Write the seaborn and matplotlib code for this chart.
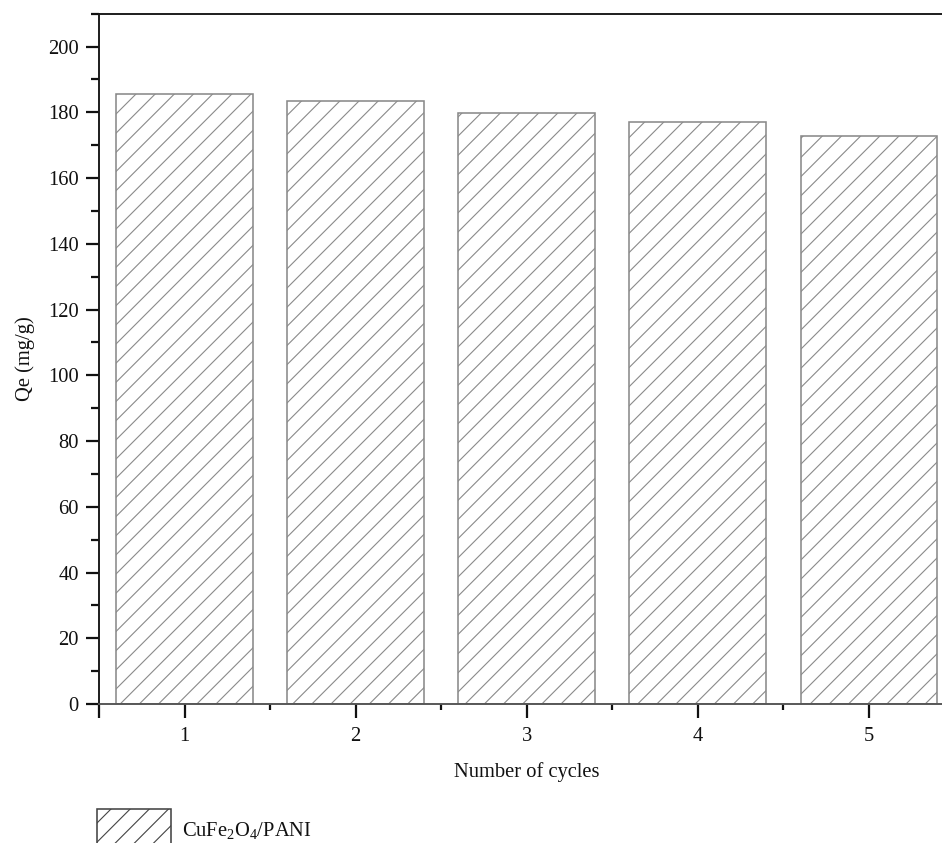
import matplotlib
matplotlib.use("Agg")
import matplotlib.pyplot as plt
import seaborn as sns
import pandas as pd
from matplotlib.ticker import FixedLocator, MultipleLocator

# Adsorption capacity over repeated regeneration cycles
cycles = [1, 2, 3, 4, 5]
qe_values = [185.6, 183.3, 179.7, 177.0, 172.7]
x_tick_labels = ["", "1", "2", "3", "4", "5"]
series_label = r"CuFe$_2$O$_4$/PANI"

df = pd.DataFrame({"cycle": cycles, "qe": qe_values})

sns.set_theme(style="ticks")
plt.rcParams["font.family"] = ["Liberation Serif", "DejaVu Serif"]
plt.rcParams["mathtext.fontset"] = "custom"
plt.rcParams["mathtext.rm"] = "Liberation Serif"
plt.rcParams["mathtext.it"] = "Liberation Serif"
plt.rcParams["hatch.linewidth"] = 0.7
plt.rcParams["text.color"] = "#111111"
plt.rcParams["axes.labelcolor"] = "#111111"
plt.rcParams["xtick.labelcolor"] = "#111111"
plt.rcParams["ytick.labelcolor"] = "#111111"

DPI = 115
fig = plt.figure(figsize=(943 / DPI, 843 / DPI), dpi=DPI)
ax = fig.add_axes([99 / 943, 139 / 843, 855.5 / 943, 690.3 / 843])

bar_edge = "#8a8a8a"
sns.barplot(data=df, x="cycle", y="qe", native_scale=True, ax=ax,
            color="white", saturation=1, edgecolor=bar_edge, linewidth=1.0,
            hatch="//", width=0.8, label=series_label)
handles, labels = ax.get_legend_handles_labels()
if ax.get_legend() is not None:
    ax.get_legend().remove()

ax.set_xlim(0.5, 5.5)
ax.set_ylim(0, 210)

ax.xaxis.set_major_locator(FixedLocator([0.5, 1, 2, 3, 4, 5]))
ax.set_xticklabels(x_tick_labels)
ax.xaxis.set_minor_locator(FixedLocator([1.5, 2.5, 3.5, 4.5]))
ax.set_yticks(range(0, 201, 20))
ax.yaxis.set_minor_locator(MultipleLocator(10))

fs = 12.8
ax.tick_params(axis="both", which="major", labelsize=fs, width=1.4, color="#111111")
ax.tick_params(axis="y", which="major", length=8.1, pad=4.5)
ax.tick_params(axis="y", which="minor", length=5.0, width=1.4, color="#111111")
ax.tick_params(axis="x", which="major", length=8.8, pad=5.5)
ax.tick_params(axis="x", which="minor", length=3.8, width=1.4, color="#111111")

ax.set_xlabel("Number of cycles", fontsize=fs, labelpad=10)
ax.set_ylabel("Qe (mg/g)", fontsize=fs, labelpad=8)

for side in ["left", "top"]:
    ax.spines[side].set_color("#1a1a1a")
    ax.spines[side].set_linewidth(1.2)
ax.spines["bottom"].set_color("#555555")
ax.spines["bottom"].set_linewidth(1.2)
ax.spines["right"].set_visible(False)

leg = fig.legend(handles[:1], labels[:1], loc="upper left",
                 bbox_to_anchor=(97 / 943, 1 - 809 / 843), frameon=False,
                 fontsize=fs, handlelength=3.6, handleheight=2.7,
                 handletextpad=0.55, borderpad=0.0, borderaxespad=0.0)
for h in leg.legend_handles:
    h.set_edgecolor("#444444")

fig.savefig("out.png", dpi=DPI)
